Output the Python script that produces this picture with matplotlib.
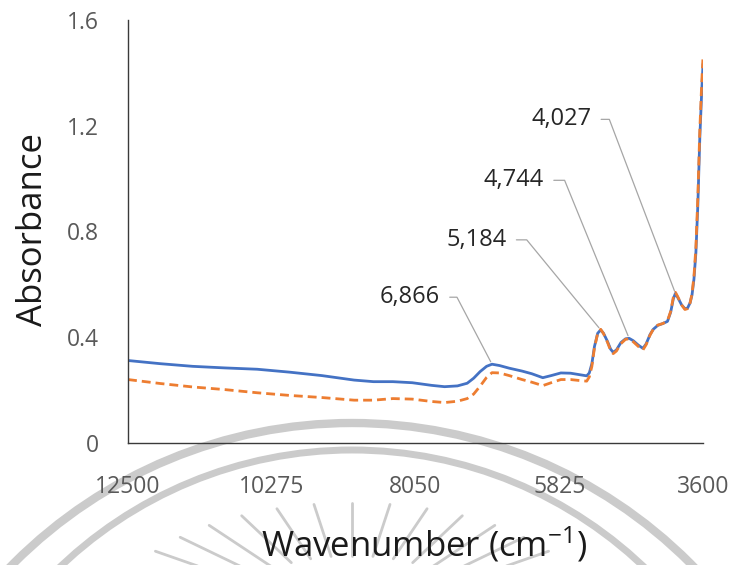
import numpy as np
import matplotlib.pyplot as plt
from matplotlib.patches import Arc

plt.rcParams['font.family'] = ['Open Sans', 'DejaVu Sans']
plt.rcParams['mathtext.fontset'] = 'custom'
plt.rcParams['mathtext.rm'] = 'Open Sans'
plt.rcParams['mathtext.it'] = 'Open Sans'

# spectra
wavenumber = [12500, 12000, 11500, 11000, 10500, 10000, 9500, 9000, 8700, 8400,
              8100, 7800, 7600, 7400, 7250, 7150, 7050, 6950, 6866, 6750,
              6600, 6400, 6250, 6080, 5950, 5800, 5650, 5500, 5400, 5360,
              5320, 5280, 5230, 5184, 5140, 5080, 5030, 4990, 4940, 4870,
              4800, 4744, 4680, 4600, 4530, 4480, 4420, 4370, 4300, 4220,
              4150, 4100, 4060, 4027, 3990, 3930, 3880, 3840, 3800, 3770,
              3740, 3710, 3680, 3650, 3620, 3600]
absorbance_1 = [0.312, 0.300, 0.290, 0.284, 0.279, 0.268, 0.255, 0.238, 0.232, 0.232,
                0.228, 0.218, 0.213, 0.216, 0.226, 0.245, 0.270, 0.290, 0.298, 0.293,
                0.283, 0.272, 0.262, 0.247, 0.255, 0.265, 0.264, 0.258, 0.254, 0.265,
                0.300, 0.365, 0.415, 0.428, 0.415, 0.385, 0.355, 0.343, 0.352, 0.380,
                0.394, 0.396, 0.387, 0.370, 0.358, 0.375, 0.410, 0.430, 0.445, 0.452,
                0.460, 0.495, 0.545, 0.566, 0.550, 0.522, 0.508, 0.510, 0.530, 0.560,
                0.620, 0.720, 0.900, 1.150, 1.330, 1.430]
absorbance_2 = [0.240, 0.225, 0.212, 0.202, 0.190, 0.180, 0.172, 0.162, 0.162, 0.168,
                0.166, 0.157, 0.153, 0.158, 0.168, 0.185, 0.215, 0.248, 0.266, 0.265,
                0.255, 0.240, 0.230, 0.217, 0.228, 0.240, 0.240, 0.236, 0.234, 0.250,
                0.290, 0.360, 0.415, 0.430, 0.414, 0.382, 0.350, 0.338, 0.348, 0.376,
                0.392, 0.394, 0.383, 0.365, 0.352, 0.372, 0.408, 0.430, 0.446, 0.452,
                0.462, 0.498, 0.550, 0.570, 0.553, 0.522, 0.505, 0.508, 0.530, 0.565,
                0.630, 0.740, 0.930, 1.180, 1.360, 1.460]

x_ticks = [12500, 10275, 8050, 5825, 3600]
y_ticks = [0, 0.4, 0.8, 1.2, 1.6]
y_tick_labels = ['0', '0.4', '0.8', '1.2', '1.6']

peaks = [6866, 5184, 4744, 4027]
peak_labels = ['6,866', '5,184', '4,744', '4,027']

W, H = 732, 565
fig = plt.figure(figsize=(W / 100, H / 100), dpi=100)


def px(x, y):
    return x / W, 1 - y / H


# faint watermark behind the chart
bg = fig.add_axes([0, 0, 1, 1], zorder=0)
bg.set_xlim(0, W)
bg.set_ylim(H, 0)
bg.axis('off')
wm = '#cbcbcb'
bg.add_patch(Arc((352, 901), 2 * 478, 2 * 478, theta1=180, theta2=360,
                 color=wm, lw=6))
bg.add_patch(Arc((352, 873), 2 * 423, 2 * 423, theta1=180, theta2=360,
                 color=wm, lw=5))
for k in range(-8, 9):
    a = np.deg2rad(90 + 9 * k)
    x0, y0 = 352 + 243 * np.cos(a), 620 - 117 * np.sin(a)
    x1, y1 = 352 + 0.55 * 243 * np.cos(a), 620 - 0.55 * 117 * np.sin(a)
    bg.plot([x0, x1], [y0, y1], color=wm, lw=2.0, solid_capstyle='round')

l, b = px(128, 443)
r, t = px(703, 20)
ax = fig.add_axes([l, b, r - l, t - b], zorder=1)
ax.set_facecolor('none')

ax.plot(wavenumber, absorbance_1, color='#4472C4', lw=2.0)
ax.plot(wavenumber, absorbance_2, color='#ED7D31', lw=2.0, dashes=(3.2, 1.8))

ax.set_xlim(12500, 3600)
ax.set_ylim(0, 1.6)
ax.set_xticks(x_ticks)
ax.set_xticklabels([str(v) for v in x_ticks])
ax.set_yticks(y_ticks)
ax.set_yticklabels(y_tick_labels)
ax.tick_params(axis='both', length=0, labelsize=16.5, labelcolor='#595959')
ax.tick_params(axis='x', pad=23)
ax.tick_params(axis='y', pad=21)

for s in ['top', 'right']:
    ax.spines[s].set_visible(False)
for s in ['left', 'bottom']:
    ax.spines[s].set_color('#3a3a3a')
    ax.spines[s].set_linewidth(1.0)

# peak call-outs
offsets = [(-52, 67), (-94, 90), (-85, 158), (-84, 174)]
angles = [117.6, 129.4, 112.2, 110.8]
for w, lab, off, ang in zip(peaks, peak_labels, offsets, angles):
    yv = np.interp(w, wavenumber[::-1], absorbance_1[::-1])
    ax.annotate(lab, xy=(w, yv), xytext=off, textcoords='offset pixels',
                ha='right', va='center', fontsize=17, color='#262626',
                arrowprops=dict(arrowstyle='-', color='#a6a6a6', lw=0.9,
                                relpos=(1, 0.5), shrinkA=5, shrinkB=2,
                                connectionstyle='angle,angleA=0,angleB=%g,rad=0' % ang))

fig.text(*px(33, 229), 'Absorbance', rotation=90, ha='center', va='center',
         fontsize=25, color='#1a1a1a')
fig.text(*px(424, 545), 'Wavenumber (cm$^{-1}$)', ha='center', va='center',
         fontsize=25, color='#1a1a1a')

fig.savefig('out.png', dpi=100)
